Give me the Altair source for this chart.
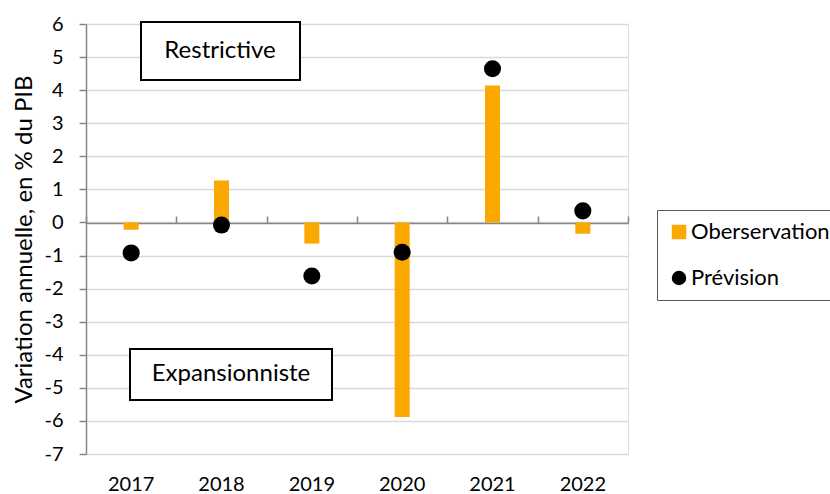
import altair as alt
import pandas as pd

years = ["2017", "2018", "2019", "2020", "2021", "2022"]
observation = [-0.22, 1.27, -0.64, -5.88, 4.14, -0.34]
prevision = [-0.92, -0.08, -1.62, -0.90, 4.65, 0.35]
y_ticks = [-7, -6, -5, -4, -3, -2, -1, 0, 1, 2, 3, 4, 5, 6]
series_names = ["Oberservation", "Prévision"]
annotations = ["Restrictive", "Expansionniste"]

ORANGE = "#FBA800"
FONT = "Lato"

obs_df = pd.DataFrame({"year": years, "value": observation, "series": series_names[0]})
prev_df = pd.DataFrame({"year": years, "value": prevision, "series": series_names[1]})

color_scale = alt.Scale(domain=series_names, range=[ORANGE, "black"])
shape_scale = alt.Scale(domain=series_names, range=["square", "circle"])
y_scale = alt.Scale(domain=[-7, 6], nice=False, zero=False)
x_scale = alt.Scale(paddingInner=0, paddingOuter=0)

def make_y_axis():
    return alt.Axis(
        values=y_ticks, tickCount=len(y_ticks), title="Variation annuelle, en % du PIB",
        titleFont=FONT, titleFontSize=24, titleFontWeight="normal", titleColor="black",
        titlePadding=7,
        labelFont=FONT, labelFontSize=20, labelColor="black", labelPadding=16,
        labelOverlap=False, labelExpr="replace(datum.label, '\u2212', '-')",
        tickSize=7, tickColor="#868686", tickWidth=1.5,
        domainColor="#868686", domainWidth=1.5,
        grid=True, gridColor="#D9D9D9", gridWidth=1.5,
    )

def make_legend():
    return alt.Legend(title=None, orient="none", legendX=571, legendY=186,
                      labelFont=FONT, labelFontSize=22, labelColor="black",
                      symbolSize=210, labelOffset=1, rowPadding=24,
                      padding=11, strokeColor="#595959", fillColor="white")

bars = alt.Chart(obs_df).mark_bar(size=15).encode(
    x=alt.X("year:N", sort=years, scale=x_scale,
            axis=alt.Axis(title=None, labelAngle=0, labelFont=FONT, labelFontSize=20,
                          labelColor="black", labelPadding=20, ticks=False, domain=False, grid=False)),
    y=alt.Y("value:Q", scale=y_scale, axis=make_y_axis()),
    color=alt.Color("series:N", scale=color_scale, legend=make_legend()),
)

points = alt.Chart(prev_df).mark_point(filled=True, size=290, opacity=1).encode(
    x=alt.X("year:N", sort=years, scale=x_scale,
            axis=alt.Axis(title=None, labels=False, offset=-199, tickBand="extent", tickSize=7,
                          tickColor="#868686", tickWidth=1.5, domainColor="#868686",
                          domainWidth=1.5, grid=False)),
    y=alt.Y("value:Q", scale=y_scale, axis=make_y_axis()),
    color=alt.Color("series:N", scale=color_scale, legend=make_legend()),
    shape=alt.Shape("series:N", scale=shape_scale, legend=make_legend()),
)

ann_df = pd.DataFrame({"label": annotations})

box_r = alt.Chart(ann_df).transform_filter(alt.datum.label == annotations[0]).mark_rect(
    fill="white", stroke="black", strokeWidth=2).encode(
    x=alt.value(55), x2=alt.value(214), y=alt.value(-2), y2=alt.value(56))
text_r = alt.Chart(ann_df).transform_filter(alt.datum.label == annotations[0]).mark_text(
    font=FONT, fontSize=24, color="black").encode(
    text="label:N", x=alt.value(134), y=alt.value(27))

box_e = alt.Chart(ann_df).transform_filter(alt.datum.label == annotations[1]).mark_rect(
    fill="white", stroke="black", strokeWidth=2).encode(
    x=alt.value(44), x2=alt.value(246), y=alt.value(325), y2=alt.value(376))
text_e = alt.Chart(ann_df).transform_filter(alt.datum.label == annotations[1]).mark_text(
    font=FONT, fontSize=24, color="black").encode(
    text="label:N", x=alt.value(145), y=alt.value(350))

chart = alt.layer(bars, points, box_r, text_r, box_e, text_e).resolve_axis(
    x="independent"
).properties(
    width=542, height=430,
    autosize=alt.AutoSizeParams(type="none"),
    padding={"left": 86, "top": 24, "right": 202, "bottom": 40},
).configure_view(stroke=None).configure(background="white")

chart.save("out.html", embed_options={"renderer": "svg", "actions": False})
